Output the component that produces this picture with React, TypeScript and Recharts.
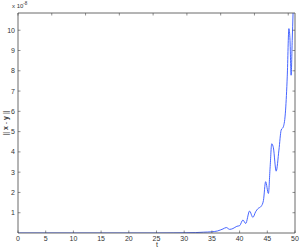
import { LineChart, Line, XAxis, YAxis } from "recharts";

const T_VALUES = [
  0, 5, 10, 15, 20, 25, 28, 30, 32, 33.5, 35, 36, 37, 37.6, 38.2, 38.8, 39.5, 40,
  40.6, 41.1, 41.8, 42.4, 42.9, 43.3, 43.9, 44.3, 44.7, 45.2, 45.5, 45.8, 46.1,
  46.6, 47.1, 47.5, 47.9, 48.3, 48.6, 48.9, 49.1, 49.3, 49.5, 49.65,
];
const DIFF_VALUES = [
  0, 0, 0, 0, 0, 0, 0.005, 0.01, 0.02, 0.04, 0.06, 0.1, 0.2, 0.27, 0.18, 0.22,
  0.33, 0.36, 0.64, 0.47, 1.08, 0.77, 1.05, 1.2, 1.32, 1.6, 2.53, 1.95, 3.2, 4.4,
  4.2, 3.05, 4.09, 5.07, 5.24, 6.06, 7.7, 10.08, 9.5, 7.78, 9.5, 10.85,
];
const X_TICKS = [0, 5, 10, 15, 20, 25, 30, 35, 40, 45, 50];
const Y_TICKS = [1, 2, 3, 4, 5, 6, 7, 8, 9, 10];

const data = T_VALUES.map((t, i) => ({ t, v: DIFF_VALUES[i] }));

const AXIS = "#444";
const TXT = "#333";
const FONT = "'Liberation Sans', Arial, sans-serif";

type TickProps = { x: number; y: number; payload: { value: number }; side: string };

function InTick({ x, y, payload, side }: TickProps) {
  const len = 2.5;
  if (side === "bottom") {
    return (
      <g>
        <line x1={x} y1={y} x2={x} y2={y - len} stroke={AXIS} strokeWidth={0.6} />
        <text x={x} y={y + 8} textAnchor="middle" fontSize={7} fill={TXT} fontFamily={FONT}>
          {payload.value}
        </text>
      </g>
    );
  }
  if (side === "top") {
    return <line x1={x} y1={y} x2={x} y2={y + len} stroke={AXIS} strokeWidth={0.6} />;
  }
  if (side === "left") {
    return (
      <g>
        <line x1={x} y1={y} x2={x + len} y2={y} stroke={AXIS} strokeWidth={0.6} />
        <text x={x - 3} y={y + 2.5} textAnchor="end" fontSize={7} fill={TXT} fontFamily={FONT}>
          {payload.value}
        </text>
      </g>
    );
  }
  return <line x1={x} y1={y} x2={x - len} y2={y} stroke={AXIS} strokeWidth={0.6} />;
}

export default function App() {
  return (
    <div style={{ position: "absolute", left: 0, top: 0, width: 303, height: 250, background: "#fff" }}>
      <LineChart
        width={303}
        height={250}
        data={data}
        margin={{ top: 12, right: 7, left: 17, bottom: 16 }}
      >
        <XAxis
          dataKey="t"
          type="number"
          domain={[0, 50]}
          ticks={X_TICKS}
          interval={0}
          height={1}
          tickSize={0.01}
          tickMargin={0}
          tickLine={false}
          axisLine={{ stroke: AXIS, strokeWidth: 0.8 }}
          tick={(p: any) => <InTick {...p} side="bottom" />}
        />
        <XAxis
          xAxisId="top"
          orientation="top"
          type="number"
          domain={[0, 50]}
          allowDataOverflow
          ticks={X_TICKS}
          interval={0}
          height={1}
          tickSize={0.01}
          tickMargin={0}
          tickLine={false}
          axisLine={{ stroke: AXIS, strokeWidth: 0.8 }}
          tick={(p: any) => <InTick {...p} side="top" />}
        />
        <YAxis
          type="number"
          domain={[0, 10.85]}
          allowDataOverflow
          ticks={Y_TICKS}
          interval={0}
          width={1}
          tickSize={0.01}
          tickMargin={0}
          tickLine={false}
          axisLine={{ stroke: AXIS, strokeWidth: 0.8 }}
          tick={(p: any) => <InTick {...p} side="left" />}
        />
        <YAxis
          yAxisId="right"
          orientation="right"
          type="number"
          domain={[0, 10.85]}
          allowDataOverflow
          ticks={Y_TICKS}
          interval={0}
          width={1}
          tickSize={0.01}
          tickMargin={0}
          tickLine={false}
          axisLine={{ stroke: AXIS, strokeWidth: 0.8 }}
          tick={(p: any) => <InTick {...p} side="right" />}
        />
        <Line
          type="monotone"
          dataKey="v"
          stroke="#3355ff"
          strokeWidth={0.9}
          dot={false}
          activeDot={false}
          isAnimationActive={false}
        />
      </LineChart>
      <div style={{ position: "absolute", left: 12, top: 1, fontSize: 6, color: TXT, fontFamily: FONT }}>
        x 10<sup style={{ fontSize: 4.5 }}>-8</sup>
      </div>
      <div
        style={{
          position: "absolute",
          left: 157,
          top: 244,
          fontSize: 7,
          lineHeight: "7px",
          color: TXT,
          fontFamily: FONT,
          transform: "translate(-50%, -50%)",
        }}
      >
        t
      </div>
      <div
        style={{
          position: "absolute",
          left: 5,
          top: 123,
          fontSize: 7,
          lineHeight: "7px",
          color: TXT,
          fontFamily: FONT,
          whiteSpace: "nowrap",
          transform: "translate(-50%, -50%) rotate(-90deg)",
        }}
      >
        || <b>x</b> - <b>y</b> ||
      </div>
    </div>
  );
}
